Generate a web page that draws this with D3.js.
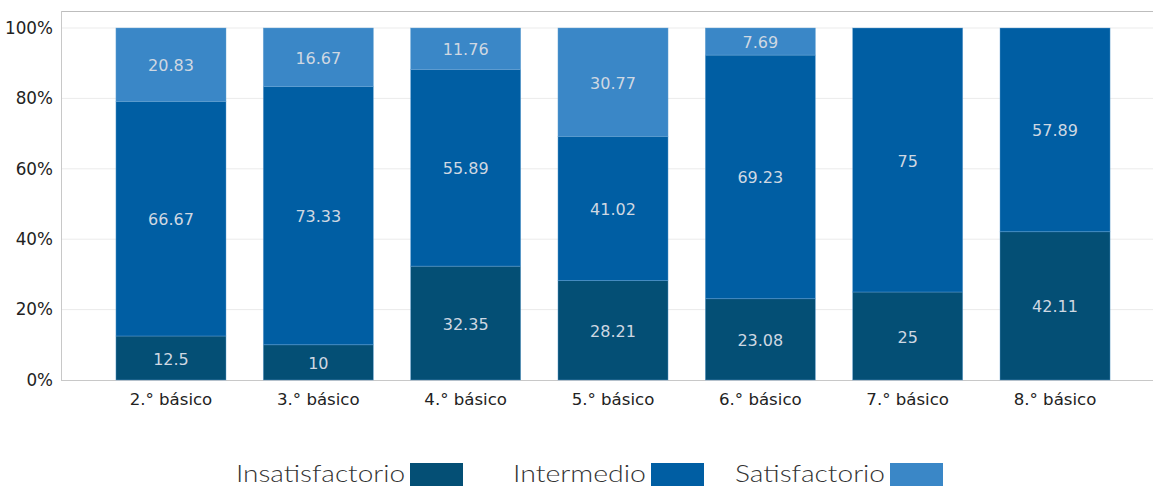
<!DOCTYPE html>
<html><head><meta charset="utf-8">
<script src="https://cdn.jsdelivr.net/npm/d3@7"></script>
<style>body{margin:0;background:#fff}svg{display:block}</style>
</head><body><svg id="c" width="1153" height="487"></svg>
<script>
const categories = ["2.° básico","3.° básico","4.° básico","5.° básico","6.° básico","7.° básico","8.° básico"];
const seriesNames = ["Insatisfactorio","Intermedio","Satisfactorio"];
const insatisfactorio = [12.5,10,32.35,28.21,23.08,25,42.11];
const intermedio = [66.67,73.33,55.89,41.02,69.23,75,57.89];
const satisfactorio = [20.83,16.67,11.76,30.77,7.69,0,0];
const yTicks = [0,20,40,60,80,100];
const colors = ["#044f75","#005ea3","#3a87c7"];

const svg = d3.select("#c");
const y = d3.scaleLinear().domain([0,100]).range([380,28]);
const x = d3.scaleBand().domain(categories).range([97.3,1128.7]).paddingInner(0.253).paddingOuter(0.1265);

// gridlines
svg.append("g").selectAll("line").data(yTicks.filter(d=>d>0)).join("line")
  .attr("x1",62).attr("x2",1153).attr("y1",d=>y(d)).attr("y2",d=>y(d))
  .attr("stroke","#ebebeb").attr("stroke-width",1);
// frame
svg.append("line").attr("x1",61).attr("x2",1153).attr("y1",11.5).attr("y2",11.5).attr("stroke","#bdbdbd");
svg.append("line").attr("x1",61.5).attr("x2",61.5).attr("y1",11).attr("y2",380).attr("stroke","#c8c8c8");
svg.append("line").attr("x1",61).attr("x2",1153).attr("y1",380.5).attr("y2",380.5).attr("stroke","#c8c8c8");

const rows = categories.map((c,i)=>({cat:c, Insatisfactorio:insatisfactorio[i], Intermedio:intermedio[i], Satisfactorio:satisfactorio[i]}));
const stack = d3.stack().keys(seriesNames)(rows);

const g = svg.append("g");
stack.forEach((s,si)=>{
  const gg = g.append("g");
  gg.selectAll("rect").data(s.filter(d=>d[1]-d[0]>0)).join("rect")
    .attr("x",d=>x(d.data.cat)).attr("width",x.bandwidth())
    .attr("y",d=>y(d[1])).attr("height",d=>y(d[0])-y(d[1]))
    .attr("fill",colors[si]).attr("stroke","#6aa5d6").attr("stroke-width",0.6).attr("stroke-opacity",0.7);
});
stack.forEach((s,si)=>{
  g.append("g").selectAll("text").data(s.filter(d=>d[1]-d[0]>0)).join("text")
    .attr("x",d=>x(d.data.cat)+x.bandwidth()/2)
    .attr("y",d=>(y(d[0])+y(d[1]))/2+2)
    .attr("text-anchor","middle").attr("dominant-baseline","middle")
    .attr("font-family","DejaVu Sans").attr("font-size",16).attr("fill","#cfd8e2")
    .text(d=>d.data[s.key]);
});

// y axis labels
svg.append("g").selectAll("text").data(yTicks).join("text")
  .attr("x",53).attr("y",d=>y(d)).attr("dy","0.35em").attr("text-anchor","end")
  .attr("font-family","DejaVu Sans").attr("font-size",16.8).attr("fill","#222")
  .text(d=>d+"%");
// x axis labels
svg.append("g").selectAll("text").data(categories).join("text")
  .attr("x",d=>x(d)+x.bandwidth()/2).attr("y",405).attr("text-anchor","middle")
  .attr("font-family","DejaVu Sans").attr("font-size",16.6).attr("fill","#222")
  .text(d=>d);

// legend
const legendX = [[236,410],[513,651],[735,890]];
seriesNames.forEach((n,i)=>{
  svg.append("text").attr("x",legendX[i][0]).attr("y",482)
    .attr("font-family","Lato").attr("font-weight",300).attr("font-size",23).attr("fill","#333")
    .attr("textLength",legendX[i][1]-legendX[i][0]-5).attr("lengthAdjust","spacingAndGlyphs")
    .text(n);
  svg.append("rect").attr("x",legendX[i][1]).attr("y",463).attr("width",53).attr("height",23).attr("fill",colors[i]);
});
</script></body></html>
